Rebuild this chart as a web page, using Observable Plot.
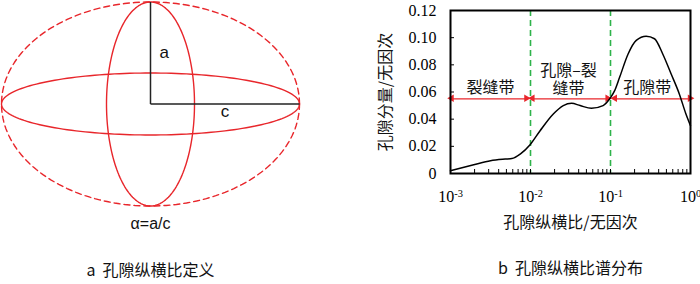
<!DOCTYPE html>
<html>
<head>
<meta charset="utf-8">
<script src="https://cdn.jsdelivr.net/npm/d3@7"></script>
<script src="https://cdn.jsdelivr.net/npm/@observablehq/plot@0.6"></script>
<style>
  html, body { margin: 0; padding: 0; background: #fff; }
  #wrap { position: relative; width: 700px; height: 284px; overflow: hidden; }
  #left { position: absolute; left: 0; top: 0; }
  #right { position: absolute; left: 350px; top: 0; }
</style>
</head>
<body>
<div id="wrap"><div id="left"></div><div id="right"></div></div>
<script>
// ---------- Panel a: ellipse definitions ----------
const ellipseNames = ["outer", "flat", "tall"];
const ellipseRx = [149, 149, 44];
const ellipseRy = [102, 31, 102];
const ellipseDashed = [true, false, false];
const semiA = 102;   // a
const semiC = 149;   // c
const captionA = "a  孔隙纵横比定义";
const formulaText = "α=a/c";

// ---------- Panel b: spectrum ----------
const ratioExp = [-3, -2.71, -2.50, -2.316, -2.233, -2.129, -2.005, -1.88, -1.715, -1.59, -1.486, -1.38, -1.238, -1.093, -1.01, -0.948, -0.886, -0.78, -0.678, -0.554, -0.45, -0.347, -0.243, -0.14, -0.057, 0];
const poreFraction = [0.002, 0.0064, 0.0094, 0.0106, 0.011, 0.0143, 0.0212, 0.0315, 0.0438, 0.050, 0.0517, 0.050, 0.048, 0.050, 0.055, 0.061, 0.0708, 0.088, 0.098, 0.1011, 0.0992, 0.088, 0.0734, 0.0586, 0.0438, 0.0352];
const boundaryRatios = [0.01, 0.1];
const bandNames = ["裂缝带", "孔隙–裂\n缝带", "孔隙带"];
const bandLabelExp = [-2.5, -1.525, -0.54];
const bandLabelY = [0.0637, 0.0697, 0.0637];
const arrowStartExp = [-2.98, -1.97, -0.94];
const arrowEndExp = [-2.045, -1.03, 0];
const arrowY = 0.055;
const yTicks = [0, 0.02, 0.04, 0.06, 0.08, 0.10, 0.12];
const xDecades = [1e-3, 1e-2, 1e-1, 1];
const xLabel = "孔隙纵横比/无因次";
const yLabel = "孔隙分量/无因次";
const captionB = "b  孔隙纵横比谱分布";

const RED = "#e8262b";
const GREEN = "#2fb34a";
const CJK = "'Noto Sans CJK SC', 'Noto Sans', sans-serif";
const SERIF = "'Liberation Serif', 'Noto Sans CJK SC', serif";
const SANS = "'Liberation Sans', Arial, sans-serif";

// ---------- Panel a ----------
const ellipsePts = [];
ellipseNames.forEach((name, k) => {
  for (let deg = 0; deg <= 360; deg += 2) {
    const t = deg * Math.PI / 180;
    ellipsePts.push({name, dashed: ellipseDashed[k], x: ellipseRx[k] * Math.cos(t), y: ellipseRy[k] * Math.sin(t)});
  }
});
const axesSegs = [
  {x1: 0, y1: 0, x2: 0, y2: semiA},
  {x1: 0, y1: 0, x2: semiC, y2: 0}
];

const left = Plot.plot({
  width: 310, height: 284,
  margin: 0,
  x: {domain: [-150, 160], axis: null},
  y: {domain: [-180.5, 103.5], axis: null},
  style: {fontFamily: SANS, fontSize: "16px", background: "transparent"},
  marks: [
    Plot.line(ellipsePts.filter(d => d.dashed), {x: "x", y: "y", z: "name", stroke: RED, strokeWidth: 1.4, strokeDasharray: "6,4"}),
    Plot.line(ellipsePts.filter(d => !d.dashed), {x: "x", y: "y", z: "name", stroke: RED, strokeWidth: 1.4}),
    Plot.link(axesSegs, {x1: "x1", y1: "y1", x2: "x2", y2: "y2", stroke: "#222", strokeWidth: 1.5}),
    Plot.text(["a"], {x: 0, y: semiA / 2, dx: 9, textAnchor: "start", fontFamily: SANS, fontSize: 17, fill: "#111"}),
    Plot.text(["c"], {x: semiC / 2, y: 0, dy: 8, fontFamily: SANS, fontSize: 17, fill: "#111"}),
    Plot.text([formulaText], {x: 0, frameAnchor: "bottom", dy: -56, fontFamily: SANS, fontSize: 16, fill: "#111"}),
    Plot.text([captionA], {x: 0, frameAnchor: "bottom", dy: -9, fontFamily: CJK, fontSize: 16, fill: "#111"})
  ]
});
document.getElementById("left").appendChild(left);

// ---------- Panel b ----------
const curve = ratioExp.map((e, i) => ({x: 10 ** e, y: poreFraction[i]}));
const arrows = arrowStartExp.map((s, i) => ({x1: 10 ** s, x2: 10 ** arrowEndExp[i], y: arrowY}));
const heads = arrows.flatMap(a => [
  {x: a.x1, y: a.y, rot: -90, off: 4.3},
  {x: a.x2, y: a.y, rot: 90, off: -4.3}
]);
const bands = bandNames.map((n, i) => ({text: n, x: 10 ** bandLabelExp[i], y: bandLabelY[i]}));
const minorTicks = [];
for (let d = -3; d < 0; d++) for (let m = 1; m <= 9; m++) minorTicks.push(m * 10 ** d);
minorTicks.push(1);

const W = 350, H = 284, mL = 100, mR = 10, mT = 10, mB = 111;
const right = Plot.plot({
  width: W, height: H,
  marginLeft: mL, marginRight: mR, marginTop: mT, marginBottom: mB,
  x: {type: "log", domain: [1e-3, 1]},
  y: {domain: [0, 0.12]},
  style: {fontFamily: SERIF, fontSize: "16px", background: "transparent", overflow: "visible"},
  marks: [
    Plot.ruleX(boundaryRatios, {stroke: GREEN, strokeWidth: 1.6, strokeDasharray: "6,4"}),
    Plot.link(arrows, {x1: "x1", x2: "x2", y1: "y", y2: "y", stroke: RED, strokeWidth: 1.3}),
    Plot.dot(heads, {x: "x", y: "y", symbol: "triangle", r: 2.8, fill: RED, stroke: "none", rotate: "rot", dx: "off"}),
    Plot.line(curve, {x: "x", y: "y", curve: "monotone-x", stroke: "#000", strokeWidth: 1.5}),
    Plot.text(bands, {x: "x", y: "y", text: "text", fontFamily: CJK, fontSize: 16, lineHeight: 1.12, fill: "#111"}),
    Plot.tickX(minorTicks, {x: d => d, insetTop: (H - mT - mB) - 4, stroke: "#000", strokeWidth: 1}),
    Plot.tickY(yTicks, {y: d => d, insetRight: (W - mL - mR) - 4, stroke: "#000", strokeWidth: 1}),
    Plot.frame({stroke: "#000", strokeWidth: 2}),
    Plot.axisX({ticks: xDecades, tickSize: 0, tickPadding: 17, fontSize: 16, label: null,
      tickFormat: d => "10^" + Math.round(Math.log10(d))}),
    Plot.axisY({ticks: yTicks, tickSize: 0, tickPadding: 14, fontSize: 16, label: null,
      tickFormat: d => d === 0 ? "0" : d.toFixed(2)}),
    Plot.text([yLabel], {frameAnchor: "left", textAnchor: "middle", rotate: -90, dx: -65, fontFamily: CJK, fontSize: 16, fill: "#111"}),
    Plot.text([xLabel], {frameAnchor: "bottom", dy: 54, fontFamily: CJK, fontSize: 16, fill: "#111"}),
    Plot.text([captionB], {frameAnchor: "bottom", dy: 100, fontFamily: CJK, fontSize: 16, fill: "#111"})
  ]
});
// superscript exponents on x tick labels
right.querySelectorAll("text").forEach(t => {
  const m = /^10\^(-?\d+)$/.exec(t.textContent);
  if (!m) return;
  t.textContent = "";
  const base = document.createElementNS("http://www.w3.org/2000/svg", "tspan");
  base.textContent = "10";
  const sup = document.createElementNS("http://www.w3.org/2000/svg", "tspan");
  sup.textContent = m[1];
  sup.setAttribute("dy", "-0.45em");
  sup.setAttribute("font-size", "0.65em");
  t.appendChild(base);
  t.appendChild(sup);
});
document.getElementById("right").appendChild(right);
</script>
</body>
</html>
